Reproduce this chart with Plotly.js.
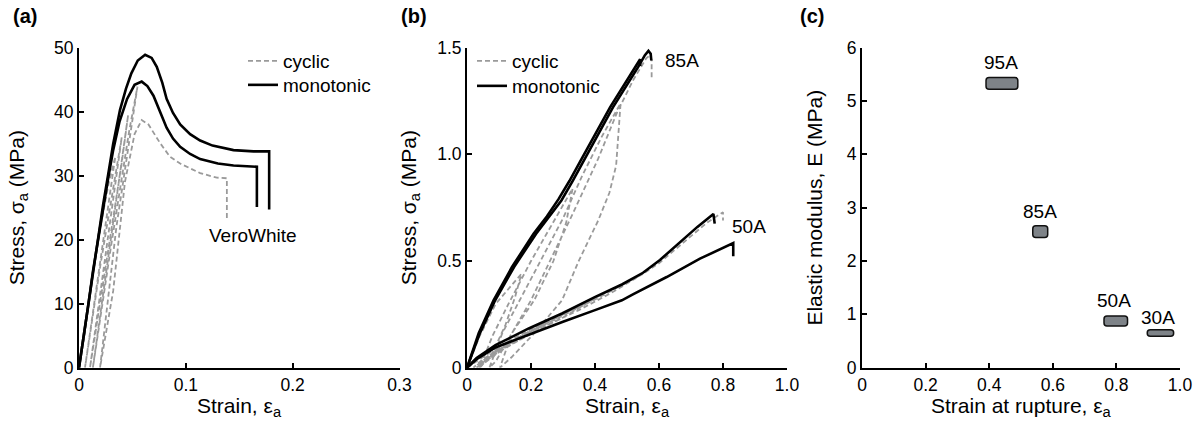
<!DOCTYPE html>
<html>
<head>
<meta charset="utf-8">
<script src="https://cdn.plot.ly/plotly-3.0.1.min.js"></script>
<style>html,body{margin:0;padding:0;background:#fff;}#chart{width:1204px;height:426px;}</style>
</head>
<body>
<div id="chart"></div>
<script>
// ---------- Panel (a): VeroWhite ----------
var aMonoUpperStrain = [0, 0.004, 0.0087, 0.013, 0.018, 0.0226, 0.0275, 0.032, 0.0384, 0.044, 0.049, 0.055, 0.0619, 0.068, 0.0728, 0.078, 0.082, 0.088, 0.0947, 0.104, 0.1134, 0.125, 0.1446, 0.1634, 0.178, 0.178];
var aMonoUpperStress = [0, 4.5, 10.1, 15.3, 20.5, 25.5, 30.4, 35.0, 40.3, 43.6, 46.0, 48.0, 48.9, 48.4, 47.0, 44.5, 42.0, 39.8, 38.0, 36.5, 35.5, 34.7, 34.0, 33.8, 33.8, 24.7];
var aMonoLowerStrain = [0, 0.004, 0.0087, 0.013, 0.018, 0.0226, 0.0275, 0.032, 0.038, 0.045, 0.052, 0.0587, 0.064, 0.0697, 0.076, 0.082, 0.088, 0.0947, 0.104, 0.1134, 0.13, 0.1446, 0.1665, 0.1665];
var aMonoLowerStress = [0, 4.3, 9.8, 15.0, 20.2, 25.0, 29.8, 34.0, 38.5, 42.0, 44.2, 44.7, 44.0, 42.5, 40.0, 37.5, 35.8, 34.5, 33.4, 32.6, 31.9, 31.6, 31.4, 25.1];
var aCyclicStrain = [0, 0.005, 0.012, 0.02, 0.028, 0.034, 0.0056, 0.02, 0.035, 0.04, 0.0103, 0.025, 0.04, 0.046, 0.013, 0.03, 0.047, 0.0547, 0.035, 0.0197, 0.032, 0.043, 0.052, 0.0587, 0.065, 0.0759, 0.085, 0.0947, 0.1134, 0.129, 0.1384, 0.1384];
var aCyclicStress = [0, 5, 14, 22, 29, 33, 0, 16, 31, 36, 0, 16, 32, 39.5, 0, 19, 37, 43.9, 22, 0, 12, 29, 36.5, 38.7, 38, 35.1, 33, 31.9, 30.4, 29.7, 29.6, 23.3];
var aTickVals = [0, 0.1, 0.2, 0.3];
var aTickText = ['0', '0.1', '0.2', '0.3'];
var aYTickVals = [0, 10, 20, 30, 40, 50];

// ---------- Panel (b): 85A / 50A ----------
var b85MonoAStrain = [0, 0.04, 0.088, 0.147, 0.216, 0.258, 0.295, 0.33, 0.363, 0.456, 0.535, 0.556, 0.567, 0.574, 0.576];
var b85MonoAStress = [0, 0.161, 0.316, 0.472, 0.628, 0.71, 0.784, 0.875, 0.965, 1.22, 1.41, 1.465, 1.485, 1.472, 1.44];
var b85MonoBStrain = [0, 0.0365, 0.083, 0.1406, 0.208, 0.25, 0.286, 0.32, 0.353, 0.447, 0.541, 0.541];
var b85MonoBStress = [0, 0.161, 0.316, 0.472, 0.628, 0.71, 0.79, 0.875, 0.965, 1.22, 1.446, 1.414];
var b85CyclicStrain = [0, 0.04, 0.09, 0.17, 0.15, 0.12, 0.08, 0.04, 0.08, 0.13, 0.2, 0.27, 0.33, 0.31, 0.27, 0.21, 0.14, 0.09, 0.07, 0.11, 0.17, 0.23, 0.3, 0.36, 0.42, 0.48, 0.474, 0.466, 0.445, 0.41, 0.349, 0.297, 0.21, 0.14, 0.103, 0.14, 0.2, 0.26, 0.33, 0.41, 0.47, 0.52, 0.56, 0.572, 0.577, 0.577];
var b85CyclicStress = [0, 0.15, 0.3, 0.44, 0.33, 0.2, 0.07, 0, 0.15, 0.3, 0.5, 0.68, 0.84, 0.68, 0.5, 0.316, 0.161, 0.03, 0, 0.161, 0.33, 0.5, 0.7, 0.9, 1.08, 1.24, 1.1, 0.947, 0.82, 0.69, 0.5, 0.316, 0.161, 0.05, 0, 0.161, 0.316, 0.5, 0.72, 0.98, 1.2, 1.35, 1.45, 1.465, 1.44, 1.36];
var b50MonoAStrain = [0, 0.03, 0.089, 0.193, 0.297, 0.401, 0.484, 0.55, 0.603, 0.64, 0.676, 0.72, 0.77, 0.774];
var b50MonoAStress = [0, 0.045, 0.106, 0.184, 0.254, 0.332, 0.39, 0.445, 0.505, 0.555, 0.605, 0.66, 0.721, 0.675];
var b50MonoBStrain = [0, 0.03, 0.089, 0.2, 0.3, 0.4, 0.484, 0.52, 0.624, 0.728, 0.832, 0.832];
var b50MonoBStress = [0, 0.04, 0.095, 0.16, 0.215, 0.27, 0.316, 0.345, 0.425, 0.511, 0.584, 0.522];
var b50CyclicStrain = [0, 0.1, 0.2, 0.25, 0.15, 0.05, 0.02, 0.1, 0.2, 0.3, 0.4, 0.3, 0.2, 0.1, 0.03, 0.1, 0.2, 0.3, 0.4, 0.5, 0.55, 0.45, 0.35, 0.25, 0.15, 0.05, 0.035, 0.15, 0.3, 0.45, 0.55, 0.6, 0.68, 0.75, 0.8, 0.8];
var b50CyclicStress = [0, 0.1, 0.18, 0.215, 0.13, 0.04, 0, 0.09, 0.175, 0.25, 0.325, 0.235, 0.16, 0.075, 0, 0.085, 0.17, 0.245, 0.32, 0.4, 0.44, 0.35, 0.27, 0.2, 0.12, 0.035, 0, 0.13, 0.25, 0.365, 0.44, 0.49, 0.59, 0.68, 0.729, 0.69];
var bTickVals = [0, 0.2, 0.4, 0.6, 0.8, 1.0];
var bTickText = ['0', '0.2', '0.4', '0.6', '0.8', '1.0'];
var bYTickVals = [0, 0.5, 1.0, 1.5];
var bYTickText = ['0', '0.5', '1.0', '1.5'];
var bLabels = ['85A', '50A'];
var bLabelStrain = [0.673, 0.881];
var bLabelStress = [1.438, 0.663];

// ---------- Panel (c): modulus vs strain at rupture ----------
var cGrades = ['95A', '85A', '50A', '30A'];
var cStrainLo = [0.39, 0.537, 0.761, 0.897];
var cStrainHi = [0.49, 0.584, 0.835, 0.98];
var cModLo = [5.22, 2.44, 0.78, 0.59];
var cModHi = [5.44, 2.66, 0.97, 0.71];
var cLabelStrain = [0.436, 0.56, 0.792, 0.93];
var cLabelMod = [5.72, 2.925, 1.254, 0.941];
var cXTickVals = [0, 0.2, 0.4, 0.6, 0.8, 1.0];
var cXTickText = ['0', '0.2', '0.4', '0.6', '0.8', '1.0'];
var cYTickVals = [0, 1, 2, 3, 4, 5, 6];

// ---------- axis titles ----------
var xTitles = ['Strain, ε<sub>a</sub>', 'Strain, ε<sub>a</sub>', 'Strain at rupture, ε<sub>a</sub>'];
var yTitles = ['Stress, σ<sub>a</sub> (MPa)', 'Stress, σ<sub>a</sub> (MPa)', 'Elastic modulus, E (MPa)'];
var panelTags = ['(a)', '(b)', '(c)'];

// ---------- styles ----------
var FONT = 'Liberation Sans, Arial, Helvetica, sans-serif';
var GRAY = '#9a9a9a';
var DASH = '5px,3px';
var cyc = {color: GRAY, width: 1.8, dash: DASH};
var mono = {color: '#000', width: 2.6};
var TICK = 17.5, TITLE = 21, LABEL = 19;

var traces = [
  {x: aCyclicStrain, y: aCyclicStress, xaxis: 'x', yaxis: 'y', mode: 'lines', line: cyc, name: 'cyclic', legend: 'legend', showlegend: true},
  {x: aMonoUpperStrain, y: aMonoUpperStress, xaxis: 'x', yaxis: 'y', mode: 'lines', line: mono, name: 'monotonic', legend: 'legend2', showlegend: true},
  {x: aMonoLowerStrain, y: aMonoLowerStress, xaxis: 'x', yaxis: 'y', mode: 'lines', line: mono, name: 'monotonic', showlegend: false},

  {x: b85CyclicStrain, y: b85CyclicStress, xaxis: 'x2', yaxis: 'y2', mode: 'lines', line: cyc, name: 'cyclic', legend: 'legend3', showlegend: true},
  {x: b50CyclicStrain, y: b50CyclicStress, xaxis: 'x2', yaxis: 'y2', mode: 'lines', line: cyc, name: 'cyclic', showlegend: false},
  {x: b85MonoAStrain, y: b85MonoAStress, xaxis: 'x2', yaxis: 'y2', mode: 'lines', line: mono, name: 'monotonic', legend: 'legend4', showlegend: true},
  {x: b85MonoBStrain, y: b85MonoBStress, xaxis: 'x2', yaxis: 'y2', mode: 'lines', line: mono, name: 'monotonic', showlegend: false},
  {x: b50MonoAStrain, y: b50MonoAStress, xaxis: 'x2', yaxis: 'y2', mode: 'lines', line: mono, name: 'monotonic', showlegend: false},
  {x: b50MonoBStrain, y: b50MonoBStress, xaxis: 'x2', yaxis: 'y2', mode: 'lines', line: mono, name: 'monotonic', showlegend: false}
];

// rounded rectangles for panel (c), corner radius ~3px converted to data units
var rx = 3 / 318, ry = 3 / 53.3;
var shapes = cGrades.map(function (g, i) {
  var x0 = cStrainLo[i], x1 = cStrainHi[i], y0 = cModLo[i], y1 = cModHi[i];
  var p = 'M' + (x0 + rx) + ',' + y0 + ' L' + (x1 - rx) + ',' + y0 +
    ' Q' + x1 + ',' + y0 + ' ' + x1 + ',' + (y0 + ry) +
    ' L' + x1 + ',' + (y1 - ry) + ' Q' + x1 + ',' + y1 + ' ' + (x1 - rx) + ',' + y1 +
    ' L' + (x0 + rx) + ',' + y1 + ' Q' + x0 + ',' + y1 + ' ' + x0 + ',' + (y1 - ry) +
    ' L' + x0 + ',' + (y0 + ry) + ' Q' + x0 + ',' + y0 + ' ' + (x0 + rx) + ',' + y0 + ' Z';
  return {type: 'path', xref: 'x3', yref: 'y3', path: p, fillcolor: '#7e8388', line: {color: '#111', width: 1.5}};
});

var annFont = {family: FONT, size: LABEL, color: '#000'};
var panelFont = {family: FONT, size: 20, color: '#000'};
var titleFont = {family: FONT, size: TITLE, color: '#000'};
var panelTagX = [11, 399, 798];
var annotations = [];
panelTags.forEach(function (t, i) {
  annotations.push({xref: 'paper', yref: 'paper', x: panelTagX[i] / 1204, y: 1 - 3 / 426, xanchor: 'left', yanchor: 'top', text: '<b>' + t + '</b>', showarrow: false, font: panelFont});
});
['x', 'x2', 'x3'].forEach(function (ax, i) {
  annotations.push({xref: ax + ' domain', yref: 'paper', x: 0.5, y: (426 - 407) / 426, xanchor: 'center', yanchor: 'middle', text: xTitles[i], showarrow: false, font: titleFont});
});
annotations.push({xref: 'x', yref: 'y', x: 0.1626, y: 20.6, text: 'VeroWhite', showarrow: false, font: annFont});
bLabels.forEach(function (t, i) {
  annotations.push({xref: 'x2', yref: 'y2', x: bLabelStrain[i], y: bLabelStress[i], text: t, showarrow: false, font: annFont});
});
cGrades.forEach(function (t, i) {
  annotations.push({xref: 'x3', yref: 'y3', x: cLabelStrain[i], y: cLabelMod[i], text: t, showarrow: false, font: annFont});
});

function axis(extra, standoff, isX) {
  var base = {
    showline: true, linecolor: '#000', linewidth: 2, ticks: 'inside', ticklen: 5, tickwidth: 2, tickcolor: '#000',
    showgrid: false, zeroline: false, tickmode: 'array', tickfont: {family: FONT, size: TICK, color: '#000'},
    fixedrange: true
  };
  if (!isX) { base.title = {text: extra.title, font: titleFont, standoff: standoff}; }
  for (var k in extra) { if (k !== 'title') { base[k] = extra[k]; } }
  return base;
}

var yDom = [(426 - 367.7) / 426, (426 - 47.7) / 426];
var legFont = {family: FONT, size: LABEL, color: '#000'};
function leg(px, topPx) {
  return {x: px / 1204, y: (426 - topPx) / 426, xanchor: 'left', yanchor: 'top', bgcolor: 'rgba(0,0,0,0)', font: legFont};
}
var layout = {
  width: 1204, height: 426, margin: {l: 0, r: 0, t: 0, b: 0},
  paper_bgcolor: '#fff', plot_bgcolor: '#fff',
  font: {family: FONT, size: 16, color: '#000'},
  xaxis: axis({domain: [79 / 1204, 399.5 / 1204], range: [0, 0.3], tickvals: aTickVals, ticktext: aTickText, anchor: 'y'}, 0, true),
  yaxis: axis({domain: yDom, range: [0, 50], tickvals: aYTickVals, ticktext: aYTickVals.map(String), title: yTitles[0], anchor: 'x'}, 24, false),
  xaxis2: axis({domain: [467 / 1204, 787 / 1204], range: [0, 1.0], tickvals: bTickVals, ticktext: bTickText, anchor: 'y2'}, 0, true),
  yaxis2: axis({domain: yDom, range: [0, 1.5], tickvals: bYTickVals, ticktext: bYTickText, title: yTitles[1], anchor: 'x2'}, 15, false),
  xaxis3: axis({domain: [862 / 1204, 1180 / 1204], range: [0, 1.0], tickvals: cXTickVals, ticktext: cXTickText, anchor: 'y3'}, 0, true),
  yaxis3: axis({domain: yDom, range: [0, 6], tickvals: cYTickVals, ticktext: cYTickVals.map(String), title: yTitles[2], anchor: 'x3'}, 18, false),
  legend: leg(243, 42),
  legend2: leg(243, 66),
  legend3: leg(472, 42),
  legend4: leg(472, 67),
  shapes: shapes,
  annotations: annotations
};

Plotly.newPlot('chart', traces, layout, {displayModeBar: false, staticPlot: true});
</script>
</body>
</html>
